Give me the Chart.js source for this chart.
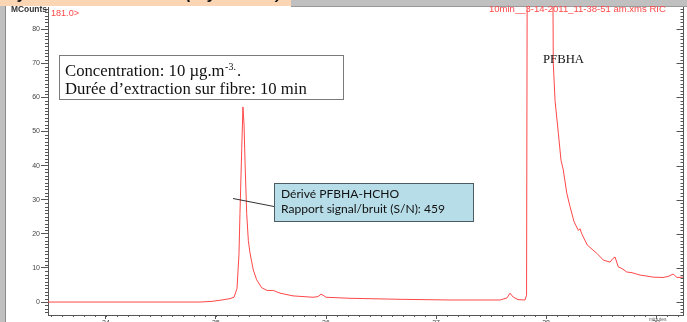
<!DOCTYPE html>
<html>
<head>
<meta charset="utf-8">
<script src="https://cdn.jsdelivr.net/npm/chart.js@4/dist/chart.umd.min.js"></script>
<style>
  html, body { margin: 0; padding: 0; background: #fff; }
  canvas { display: block; }
</style>
</head>
<body>
<canvas id="chromChart" width="687" height="322"></canvas>
<script>
// retention time (min) and signal (MCounts)
const times = [
  23.473, 24.855, 24.964, 25.055, 25.127, 25.164, 25.191, 25.209, 25.218, 25.234,
  25.245, 25.255, 25.264, 25.279, 25.294, 25.309, 25.339, 25.370, 25.415, 25.464,
  25.521, 25.582, 25.700, 25.882, 25.927, 25.955, 25.973, 26.000, 26.218, 26.673,
  27.127, 27.582, 27.645, 27.673, 27.700, 27.745, 27.809, 27.823, 27.832, 28.053,
  28.066, 28.082, 28.112, 28.136, 28.157, 28.188, 28.218, 28.255, 28.294, 28.309,
  28.325, 28.375, 28.418, 28.461, 28.521, 28.582, 28.609, 28.627, 28.657, 28.691,
  28.734, 28.782, 28.855, 28.918, 28.973, 29.064, 29.109, 29.155, 29.191, 29.245
];
const counts = [
  0.0, 0.0, 0.2, 0.6, 1.0, 1.4, 4.0, 14.0, 26.0, 45.0,
  57.2, 52.0, 41.0, 26.0, 18.0, 14.4, 9.4, 6.5, 4.2, 3.4,
  3.4, 2.6, 1.8, 1.4, 1.6, 2.3, 2.0, 1.4, 1.1, 0.8,
  0.6, 0.6, 1.2, 2.6, 1.5, 0.7, 0.6, 2.0, 150, 150,
  70.0, 59.0, 49.5, 41.6, 38.7, 32.0, 28.0, 23.5, 21.0, 21.5,
  20.0, 16.7, 15.5, 14.3, 12.3, 11.7, 12.8, 13.2, 10.3, 9.8,
  8.8, 8.6, 7.9, 7.6, 7.3, 7.2, 7.5, 8.2, 7.2, 7.3
];
const xTicks = [24, 25, 26, 27, 28, 29];
const yTicks = [0, 10, 20, 30, 40, 50, 60, 70, 80];
const xRange = [23.473, 29.245];
const yRange = [-3.8, 86.5];

const axisColor = '#555';
const traceColor = '#ff4848';

function fitFont(ctx, text, family, width, style) {
  ctx.font = (style || '') + ' 100px ' + family;
  const size = 100 * width / ctx.measureText(text).width;
  return (style || '') + ' ' + size.toFixed(2) + 'px ' + family;
}

const decor = {
  id: 'decor',
  beforeDraw(chart) {
    const ctx = chart.ctx;
    ctx.save();
    ctx.fillStyle = '#fff';
    ctx.fillRect(0, 0, chart.width, chart.height);
    // window frame on the left
    ctx.fillStyle = '#c0c0c0';
    ctx.fillRect(0, 0, 5, chart.height);
    ctx.fillStyle = '#8a8a8a';
    ctx.fillRect(5, 0, 1, chart.height);
    ctx.restore();
  },
  afterDraw(chart) {
    const ctx = chart.ctx;
    const x = chart.scales.x, y = chart.scales.y;
    const area = chart.chartArea;
    ctx.save();
    ctx.strokeStyle = axisColor;
    ctx.lineWidth = 1;

    // minor ticks on the left axis, every unit
    ctx.beginPath();
    for (let v = -3; v <= 86; v++) {
      if (v % 10 === 0) continue;
      const py = Math.round(y.getPixelForValue(v)) + 0.5;
      ctx.moveTo(area.left - 3, py);
      ctx.lineTo(area.left, py);
    }
    // right axis with inward ticks
    const rx = area.right + 0.5;
    ctx.moveTo(rx, area.top);
    ctx.lineTo(rx, area.bottom);
    for (let v = -3; v <= 86; v++) {
      const py = Math.round(y.getPixelForValue(v)) + 0.5;
      ctx.moveTo(rx - (v % 10 === 0 ? 7 : 3), py);
      ctx.lineTo(rx, py);
    }
    // minor ticks on the time axis, every 0.1 min
    for (let t = 23.5; t <= 29.25; t += 0.1) {
      const px = Math.round(x.getPixelForValue(t)) + 0.5;
      ctx.moveTo(px, area.bottom);
      ctx.lineTo(px, area.bottom + 2);
    }
    ctx.stroke();

    // header strip (bottom edge of a cut-off title)
    ctx.fillStyle = '#c0c0c0';
    ctx.fillRect(0, 0, chart.width, 6);
    ctx.fillStyle = '#fcd5b4';
    ctx.fillRect(0, 0, 291, 6);
    ctx.fillStyle = '#999';
    ctx.fillRect(291, 6, chart.width - 291, 1);
    ctx.save();
    ctx.beginPath();
    ctx.rect(0, 0, 291, 6);
    ctx.clip();
    ctx.fillStyle = '#111';
    ctx.font = 'italic bold 16px "Liberation Sans"';
    ctx.textBaseline = 'alphabetic';
    ctx.fillText('y', 18, -1);
    ctx.fillText('(', 186, -1);
    ctx.fillText('y', 208, -1);
    ctx.fillText(')', 276, -1);
    ctx.restore();

    // instrument labels
    ctx.textBaseline = 'middle';
    ctx.fillStyle = '#333';
    ctx.font = fitFont(ctx, 'MCounts', '"Liberation Sans"', 36, 'bold');
    ctx.fillText('MCounts', 11, 9.5);
    ctx.fillStyle = '#ff4848';
    ctx.font = fitFont(ctx, '181.0>', '"Liberation Sans"', 28);
    ctx.fillText('181.0>', 51, 13);
    const fileTag = '10min__3-14-2011_11-38-51 am.xms RIC';
    ctx.font = fitFont(ctx, fileTag, '"Liberation Sans"', 177);
    ctx.fillText(fileTag, 489, 9.5);
    ctx.fillStyle = '#666';
    ctx.font = '5px "Liberation Sans"';
    ctx.fillText('minutes', 649, 320);

    // conditions box
    ctx.fillStyle = '#fff';
    ctx.fillRect(59, 55, 284, 44);
    ctx.strokeStyle = '#7a7a7a';
    ctx.strokeRect(59.5, 55.5, 284, 44);
    ctx.fillStyle = '#111';
    ctx.textBaseline = 'alphabetic';
    const line2 = 'Durée d\u2019extraction sur fibre: 10 min';
    const serif = fitFont(ctx, line2, '"Liberation Serif"', 242);
    ctx.font = serif;
    const l1 = 'Concentration: 10 \u00b5g.m';
    ctx.fillText(l1, 65, 76);
    const w1 = ctx.measureText(l1).width;
    const size = parseFloat(serif.trim().split(' ')[0]);
    ctx.font = (size * 0.6).toFixed(1) + 'px "Liberation Serif"';
    const sup = '-3.';
    ctx.fillText(sup, 65 + w1 + 0.5, 70);
    const wSup = ctx.measureText(sup).width;
    ctx.font = serif;
    ctx.fillText('.', 65 + w1 + wSup + 1.5, 76);
    ctx.fillText(line2, 65, 94);

    // PFBHA label
    ctx.font = fitFont(ctx, 'PFBHA', '"Liberation Serif"', 41);
    ctx.fillText('PFBHA', 543, 63);

    // callout for the HCHO derivative peak
    ctx.strokeStyle = '#333';
    ctx.beginPath();
    ctx.moveTo(233, 198.5);
    ctx.lineTo(274, 206.5);
    ctx.stroke();
    ctx.fillStyle = '#b7dde8';
    ctx.fillRect(274, 183, 199, 38);
    ctx.strokeStyle = '#4d5b62';
    ctx.strokeRect(274.5, 183.5, 199, 38);
    ctx.fillStyle = '#111';
    const cal2 = 'Rapport signal/bruit (S/N): 459';
    ctx.font = fitFont(ctx, cal2, 'Lato', 164);
    ctx.fillText('Dérivé PFBHA-HCHO', 281, 198);
    ctx.fillText(cal2, 281, 213);
    ctx.restore();
  }
};

new Chart(document.getElementById('chromChart'), {
  type: 'line',
  data: {
    datasets: [{
      label: 'RIC 181.0',
      data: times.map((t, i) => ({ x: t, y: counts[i] })),
      borderColor: traceColor,
      borderWidth: 1,
      pointRadius: 0,
      tension: 0
    }]
  },
  options: {
    responsive: false,
    animation: false,
    devicePixelRatio: 1,
    layout: { padding: { left: 0, right: 4, top: 7, bottom: 0 } },
    plugins: { legend: { display: false }, tooltip: { enabled: false } },
    scales: {
      x: {
        type: 'linear',
        min: xRange[0],
        max: xRange[1],
        afterBuildTicks: s => { s.ticks = xTicks.map(v => ({ value: v })); },
        afterFit: s => { s.height = 7; },
        grid: { drawOnChartArea: false, color: axisColor, tickLength: 4 },
        border: { color: axisColor },
        ticks: { padding: 0, color: '#444', font: { family: 'Liberation Sans', size: 7 }, maxRotation: 0 }
      },
      y: {
        min: yRange[0],
        max: yRange[1],
        afterBuildTicks: s => { s.ticks = yTicks.map(v => ({ value: v })); },
        afterFit: s => { s.width = 48; },
        grid: { drawOnChartArea: false, color: axisColor, tickLength: 7 },
        border: { color: axisColor },
        ticks: { padding: 1, color: '#444', font: { family: 'Liberation Sans', size: 7 } }
      }
    }
  },
  plugins: [decor]
});
</script>
</body>
</html>
